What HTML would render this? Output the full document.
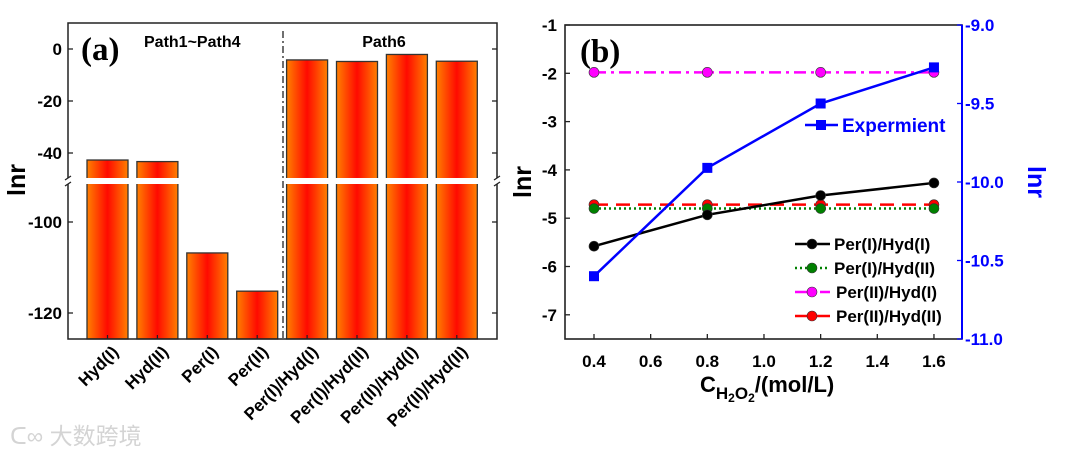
<!DOCTYPE html>
<html><head><meta charset="utf-8"><style>
html,body{margin:0;padding:0;background:#fff;}
svg{display:block;font-family:"Liberation Sans",Arial,sans-serif;}
</style></head><body>
<svg id="chart" width="1080" height="456" viewBox="0 0 1080 456">
<defs>
<linearGradient id="barg" x1="0" x2="1" y1="0" y2="0">
<stop offset="0" stop-color="#ff8000"/><stop offset="0.5" stop-color="#ff0a00"/><stop offset="1" stop-color="#ff8000"/>
</linearGradient>
</defs>
<g id="pa"></g>
<g id="pb"></g>
<text x="10" y="444" font-size="23" fill="#d4d4d4" font-family="'Liberation Sans','Noto Sans CJK SC',sans-serif">ᑕ∞ 大数跨境</text>
</svg>
<script>
const barCats = ["Hyd(I)","Hyd(II)","Per(I)","Per(II)","Per(I)/Hyd(I)","Per(I)/Hyd(II)","Per(II)/Hyd(I)","Per(II)/Hyd(II)"];
const barVals = [-42.7,-43.3,-106.8,-115.2,-4.2,-4.8,-2.1,-4.7];
const aTicksUpper = [0,-20,-40];
const aTicksLower = [-100,-120];

const xVals = [0.4,0.8,1.2,1.6];
const sPI_HI = [-5.58,-4.93,-4.53,-4.27];
const sPI_HII = [-4.8,-4.8,-4.8,-4.8];
const sPII_HI = [-1.98,-1.98,-1.98,-1.98];
const sPII_HII = [-4.72,-4.72,-4.72,-4.72];
const sExp = [-10.6,-9.91,-9.5,-9.27];
const bXTicks = [0.4,0.6,0.8,1.0,1.2,1.4,1.6];
const bLeftTicks = [-1,-2,-3,-4,-5,-6,-7];
const bRightTicks = [-9.0,-9.5,-10.0,-10.5,-11.0];

const NS="http://www.w3.org/2000/svg";
function mk(parent,tag,attrs,text){const e=document.createElementNS(NS,tag);for(const k in attrs)e.setAttribute(k,attrs[k]);if(text!==undefined)e.textContent=text;parent.appendChild(e);return e;}

// ---------- Panel A ----------
const pa=document.getElementById('pa');
const aL=68,aR=497,aT=23,aB=339,breakY=181;
function yScaleA(v){ if(v>-60) return 49 + (-v)*2.6; return 222 + (-100-v)*4.55; }
function xA(i){return 107.5 + i*49.9;}
barVals.forEach((v,i)=>{
  const cx=xA(i), top=yScaleA(v);
  const r=mk(pa,'rect',{x:cx-20.5,y:top,width:41,height:aB-top,fill:'url(#barg)',stroke:'#333','stroke-width':1.3});
  
  
  const t=mk(pa,'text',{x:0,y:0,'font-size':17,'font-weight':'bold','text-anchor':'end',transform:`translate(${cx+12},${aB+14}) rotate(-45)`},barCats[i]);
  
  
});
mk(pa,'rect',{x:aL+1,y:breakY-3,width:aR-aL-2,height:6,fill:'#fff',});
mk(pa,'rect',{x:aL,y:aT,width:aR-aL,height:aB-aT,fill:'none',stroke:'#222','stroke-width':1.5,});
[aL,aR].forEach(x=>{mk(pa,'rect',{x:x-3,y:breakY-3,width:6,height:6,fill:'#fff'});
mk(pa,'path',{d:`M${x-3} ${breakY-1} L${x+3} ${breakY-5} M${x-3} ${breakY+5} L${x+3} ${breakY+1}`,stroke:'#222','stroke-width':1.3,fill:'none',});});
aTicksUpper.concat(aTicksLower).forEach(v=>{
  const y=yScaleA(v);
  mk(pa,'line',{x1:aL,x2:aL+5,y1:y,y2:y,stroke:'#222','stroke-width':1.3});
  mk(pa,'line',{x1:aR,x2:aR-5,y1:y,y2:y,stroke:'#222','stroke-width':1.3});
  const t=mk(pa,'text',{x:aL-6,y:y+6,'font-size':17,'font-weight':'bold','text-anchor':'end'},String(v));
  
  
});
barCats.forEach((c,i)=>mk(pa,'line',{x1:xA(i),x2:xA(i),y1:aB,y2:aB-4,stroke:'#222','stroke-width':1.2}));
mk(pa,'line',{x1:283,x2:283,y1:aT+8,y2:aB,stroke:'#222','stroke-width':1.3,'stroke-dasharray':'7 3 2 3',});
mk(pa,'text',{x:81,y:60,'font-size':33,'font-weight':'bold','font-family':'Liberation Serif,serif',},'(a)');
mk(pa,'text',{x:144,y:47,'font-size':16,'font-weight':'bold',},'Path1~Path4');
mk(pa,'text',{x:384,y:47,'font-size':16,'font-weight':'bold','text-anchor':'middle',},'Path6');
mk(pa,'text',{x:0,y:0,'font-size':25,'font-weight':'bold','text-anchor':'middle',transform:'translate(25,180) rotate(-90)',},'lnr');

// ---------- Panel B ----------
const pb=document.getElementById('pb');
const bL=565,bR=962,bT=25,bB=339;
function xB(v){return 594+(v-0.4)*283.3;}
function yL(v){return 25+(-1-v)*48.3;}
function yR(v){return 25+(-9-v)*157;}
mk(pb,'rect',{x:bL,y:bT,width:bR-bL,height:bB-bT,fill:'none',stroke:'#222','stroke-width':1.6,});
mk(pb,'line',{x1:bR,x2:bR,y1:bT,y2:bB,stroke:'#0000ff','stroke-width':2,});
bXTicks.forEach(v=>{const x=xB(v);mk(pb,'line',{x1:x,x2:x,y1:bB,y2:bB-5,stroke:'#222','stroke-width':1.3});
 const t=mk(pb,'text',{x:x,y:bB+28,'font-size':17,'font-weight':'bold','text-anchor':'middle'},v.toFixed(1));
 
 });
bLeftTicks.forEach(v=>{const y=yL(v);mk(pb,'line',{x1:bL,x2:bL+5,y1:y,y2:y,stroke:'#222','stroke-width':1.3});
 const t=mk(pb,'text',{x:bL-8,y:y+6,'font-size':17,'font-weight':'bold','text-anchor':'end'},String(v));
 
 });
bRightTicks.forEach(v=>{const y=yR(v);mk(pb,'line',{x1:bR,x2:bR-5,y1:y,y2:y,stroke:'#0000ff','stroke-width':1.3});
 const t=mk(pb,'text',{x:bR+3,y:y+6,'font-size':17,'font-weight':'bold',fill:'#0000ff'},v.toFixed(1));
 
 });
function series(vals,yf,color,dash,name,marker){
  const pts=vals.map((v,i)=>xB(xVals[i])+','+yf(v)).join(' ');
  const pl=mk(pb,'polyline',{points:pts,fill:'none',stroke:color,'stroke-width':2.5,'stroke-dasharray':dash});
  
  
  vals.forEach((v,i)=>{let m;
    if(marker==='sq') m=mk(pb,'rect',{x:xB(xVals[i])-5,y:yf(v)-5,width:10,height:10,fill:color});
    else m=mk(pb,'circle',{cx:xB(xVals[i]),cy:yf(v),r:5,fill:color,stroke:'#333','stroke-width':0.6});
    
    });
}
series(sPII_HI,yL,'#ff00ff','12 5 3 5','per2-hyd1','c');
series(sPII_HII,yL,'#ff0000','14 8','per2-hyd2','c');
series(sPI_HII,yL,'#008000','2 3','per1-hyd2','c');
series(sPI_HI,yL,'#000','','per1-hyd1','c');
series(sExp,yR,'#0000ff','','experiment','sq');
mk(pb,'line',{x1:805,x2:838,y1:125,y2:125,stroke:'#0000ff','stroke-width':2.5});
mk(pb,'rect',{x:816,y:120,width:10,height:10,fill:'#0000ff'});
mk(pb,'text',{x:842,y:132,'font-size':19,'font-weight':'bold',fill:'#0000ff',},'Expermient');
const legs=[['Per(I)/Hyd(I)','#000',''],['Per(I)/Hyd(II)','#008000','2 3'],['Per(II)/Hyd(I)','#ff00ff','12 5 3 5'],['Per(II)/Hyd(II)','#ff0000','14 8']];
legs.forEach((l,i)=>{const y=244+i*24;
 mk(pb,'line',{x1:795,x2:830,y1:y,y2:y,stroke:l[1],'stroke-width':2.5,'stroke-dasharray':l[2]});
 mk(pb,'circle',{cx:812,cy:y,r:5,fill:l[1],stroke:'#333','stroke-width':0.6});
 const t=mk(pb,'text',{x:i<2?834:836,y:y+6,'font-size':17,'font-weight':'bold'},l[0]);
 
 });
mk(pb,'text',{x:580,y:62,'font-size':33,'font-weight':'bold','font-family':'Liberation Serif,serif',},'(b)');
mk(pb,'text',{x:0,y:0,'font-size':25,'font-weight':'bold','text-anchor':'middle',transform:'translate(531,182) rotate(-90)',},'lnr');
mk(pb,'text',{x:0,y:0,'font-size':25,'font-weight':'bold','text-anchor':'middle',fill:'#0000ff',transform:'translate(1028,182) rotate(90)',},'lnr');
const xt=mk(pb,'text',{x:700,y:392,'font-size':22,'font-weight':'bold',});
xt.innerHTML='C<tspan font-size="17" dy="7">H</tspan><tspan font-size="12" dy="3">2</tspan><tspan font-size="17" dy="-3">O</tspan><tspan font-size="12" dy="3">2</tspan><tspan dy="-10">/(mol/L)</tspan>';
</script>
</body></html>
